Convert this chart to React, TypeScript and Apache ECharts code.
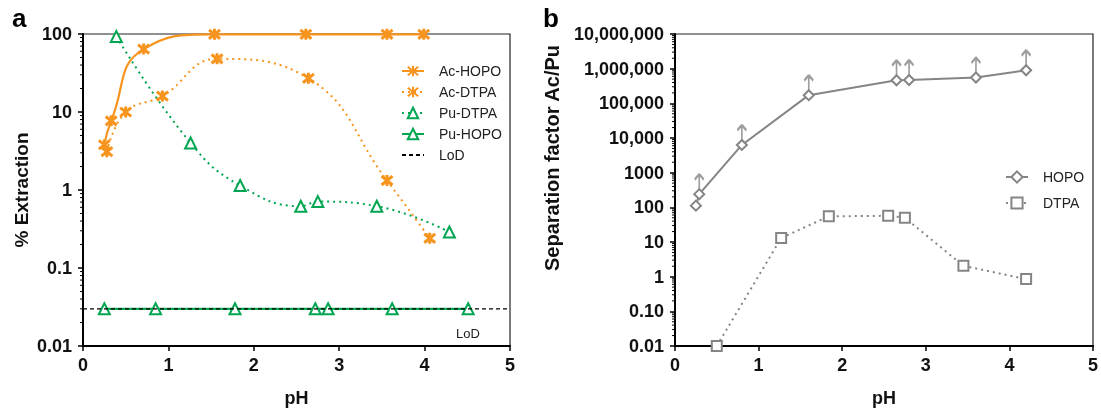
import React, { useEffect, useRef } from 'react';
import * as echarts from 'echarts';

// ---- Panel a: % Extraction vs pH ----
const acHopoPH = [0.25, 0.33, 0.71, 1.54, 2.61, 3.56, 3.99];
const acHopoExt = [3.8, 7.7, 64, 99, 99, 99, 99];
const acDtpaPH = [0.28, 0.5, 0.93, 1.57, 2.64, 3.56, 4.06];
const acDtpaExt = [3.1, 10, 16, 48, 27, 1.32, 0.24];
const puDtpaPH = [0.39, 1.26, 1.84, 2.55, 2.75, 3.44, 4.29];
const puDtpaExt = [93, 4.0, 1.14, 0.62, 0.71, 0.62, 0.29];
const puHopoPH = [0.25, 0.85, 1.78, 2.72, 2.87, 3.62, 4.51];
const puHopoExt = [0.03, 0.03, 0.03, 0.03, 0.03, 0.03, 0.03];
const lodPH = [0, 5];
const lodExt = [0.03, 0.03];

// ---- Panel b: separation factor Ac/Pu vs pH ----
const hopoPH = [0.25, 0.29, 0.8, 1.6, 2.65, 2.8, 3.6, 4.2];
const hopoSF = [112, 240, 6300, 172000, 464000, 470000, 555000, 900000];
const hopoLowerBound = [false, true, true, true, true, true, true, true];
const dtpaPH = [0.5, 1.27, 1.84, 2.55, 2.75, 3.45, 4.2];
const dtpaSF = [0.01, 13, 55, 57, 50, 2.06, 0.85];

// ---- Tick labels ----
const leftYTickLabels = ['0.01', '0.1', '1', '10', '100'];
const rightYTickLabels = ['0.01', '0.10', '1', '10', '100', '1000', '10,000', '100,000', '1,000,000', '10,000,000'];

const ORANGE = '#F7941D';
const GREEN = '#00A651';
const GRAY = '#858585';
const FONT = 'Liberation Sans, Arial, sans-serif';

const zip = (xs: number[], ys: number[]) => xs.map((x, i) => [x, ys[i]]);

const STAR = 'path://M1,1 L9,9 M9,1 L1,9 M5,0 L5,10';
const ARROW = 'path://M5,16 L5,1 M5,1 L1,6 M5,1 L9,6';

export default function App() {
  const ref = useRef<HTMLDivElement>(null);
  useEffect(() => {
    if (!ref.current) return;
    const chart = echarts.init(ref.current, undefined, { renderer: 'svg' });

    const xAxisCommon = (gridIndex: number) => ({
      type: 'value',
      gridIndex,
      min: 0,
      max: 5,
      interval: 1,
      name: 'pH',
      nameLocation: 'middle',
      nameGap: 43,
      nameTextStyle: { fontFamily: FONT, fontWeight: 'bold', fontSize: 18, color: '#111' },
      axisLine: { show: true, onZero: false, lineStyle: { color: '#000', width: 2 } },
      axisTick: { show: true, inside: false, length: 5, lineStyle: { color: '#000', width: 1.5 } },
      axisLabel: { fontFamily: FONT, fontWeight: 'bold', fontSize: 18, color: '#111', margin: 10 },
      splitLine: { show: false },
    });

    const option: any = {
      animation: false,
      textStyle: { fontFamily: FONT },
      grid: [
        { left: 83, right: 591, top: 34, bottom: 64, show: true, borderColor: '#222', borderWidth: 1.2, containLabel: false },
        { left: 675, right: 7, top: 34, bottom: 64, show: true, borderColor: '#222', borderWidth: 1.2, containLabel: false },
      ],
      xAxis: [xAxisCommon(0), xAxisCommon(1)],
      yAxis: [
        {
          type: 'log',
          logBase: 10,
          gridIndex: 0,
          min: 0.01,
          max: 100,
          name: '% Extraction',
          nameLocation: 'middle',
          nameGap: 52,
          nameTextStyle: { fontFamily: FONT, fontWeight: 'bold', fontSize: 19, color: '#111' },
          axisLine: { show: true, lineStyle: { color: '#000', width: 2 } },
          axisTick: { show: true, length: 5, lineStyle: { color: '#000', width: 1.5 } },
          axisLabel: {
            fontFamily: FONT, fontWeight: 'bold', fontSize: 18, color: '#111', margin: 11,
            formatter: (v: number) => leftYTickLabels[Math.round(Math.log10(v)) + 2] ?? '',
          },
          splitLine: { show: false },
        },
        {
          type: 'log',
          logBase: 10,
          gridIndex: 1,
          min: 0.01,
          max: 10000000,
          axisLine: { show: true, lineStyle: { color: '#000', width: 2 } },
          axisTick: { show: true, length: 5, lineStyle: { color: '#000', width: 1.5 } },
          axisLabel: {
            fontFamily: FONT, fontWeight: 'bold', fontSize: 18, color: '#111', margin: 11,
            formatter: (v: number) => rightYTickLabels[Math.round(Math.log10(v)) + 2] ?? '',
          },
          splitLine: { show: false },
        },
      ],
      legend: [
        {
          orient: 'vertical',
          left: 396,
          top: 59,
          itemWidth: 22,
          itemHeight: 13,
          itemGap: 7,
          data: ['Ac-HOPO', 'Ac-DTPA', 'Pu-DTPA', 'Pu-HOPO', { name: 'LoD', itemStyle: { opacity: 0 } }],
          textStyle: { fontFamily: FONT, fontSize: 14, color: '#222', padding: [0, 0, 0, 10] },
        },
        {
          orient: 'vertical',
          left: 1000,
          top: 165,
          itemWidth: 22,
          itemHeight: 14,
          itemGap: 12,
          data: ['HOPO', 'DTPA'],
          textStyle: { fontFamily: FONT, fontSize: 14, color: '#222', padding: [0, 0, 0, 10] },
        },
      ],
      series: [
        {
          name: 'Ac-HOPO', type: 'line', xAxisIndex: 0, yAxisIndex: 0, clip: false,
          data: zip(acHopoPH, acHopoExt), smooth: 0.5,
          symbol: STAR, symbolSize: 11,
          itemStyle: { color: ORANGE, borderColor: ORANGE, borderWidth: 3 },
          lineStyle: { color: ORANGE, width: 2.2, type: 'solid' },
          z: 4,
        },
        {
          name: 'Ac-DTPA', type: 'line', xAxisIndex: 0, yAxisIndex: 0, clip: false,
          data: zip(acDtpaPH, acDtpaExt), smooth: 0.45,
          symbol: STAR, symbolSize: 11,
          itemStyle: { color: ORANGE, borderColor: ORANGE, borderWidth: 3 },
          lineStyle: { color: ORANGE, width: 2, type: [2, 4] },
          z: 4,
        },
        {
          name: 'Pu-DTPA', type: 'line', xAxisIndex: 0, yAxisIndex: 0, clip: false,
          data: zip(puDtpaPH, puDtpaExt), smooth: 0.45,
          symbol: 'emptyTriangle', symbolSize: 11,
          itemStyle: { color: GREEN, borderWidth: 2.2 },
          lineStyle: { color: GREEN, width: 2, type: [2, 4] },
          z: 3,
        },
        {
          name: 'Pu-HOPO', type: 'line', xAxisIndex: 0, yAxisIndex: 0, clip: false,
          data: zip(puHopoPH, puHopoExt),
          symbol: 'emptyTriangle', symbolSize: 11,
          itemStyle: { color: GREEN, borderWidth: 2.2 },
          lineStyle: { color: GREEN, width: 2.2 },
          z: 3,
        },
        {
          name: 'LoD', type: 'line', xAxisIndex: 0, yAxisIndex: 0, clip: false,
          data: zip(lodPH, lodExt), symbol: 'none',
          itemStyle: { color: '#000' },
          lineStyle: { color: '#000', width: 1.2, type: [4, 3] },
          z: 5,
        },
        {
          name: 'HOPO', type: 'line', xAxisIndex: 1, yAxisIndex: 1, clip: false,
          data: zip(hopoPH, hopoSF),
          symbol: 'emptyDiamond', symbolSize: 10,
          itemStyle: { color: GRAY, borderWidth: 2 },
          lineStyle: { color: GRAY, width: 2 },
          z: 3,
        },
        {
          name: 'HOPO lower bound', type: 'scatter', xAxisIndex: 1, yAxisIndex: 1, clip: false,
          data: zip(hopoPH, hopoSF).filter((_, i) => hopoLowerBound[i]),
          symbol: ARROW, symbolSize: [9, 16], symbolOffset: [0, -12],
          itemStyle: { color: GRAY, borderColor: GRAY, borderWidth: 2.2 },
          z: 2,
        },
        {
          name: 'DTPA', type: 'line', xAxisIndex: 1, yAxisIndex: 1, clip: false,
          data: zip(dtpaPH, dtpaSF),
          symbol: 'emptyRect', symbolSize: 10,
          itemStyle: { color: GRAY, borderWidth: 2.2 },
          lineStyle: { color: GRAY, width: 2, type: [2, 4] },
          z: 3,
        },
      ],
    };
    chart.setOption(option);

    // log-spaced minor ticks on both y axes
    const graphics: any[] = [];
    const addMinor = (yAxisIndex: number, xAxisIndex: number, dMin: number, dMax: number) => {
      const xPix = chart.convertToPixel({ xAxisIndex } as any, 0) as number;
      for (let d = dMin; d < dMax; d++) {
        for (let m = 2; m <= 9; m++) {
          const y = chart.convertToPixel({ yAxisIndex } as any, m * Math.pow(10, d)) as number;
          graphics.push({
            type: 'line', silent: true,
            shape: { x1: xPix - 3, y1: y, x2: xPix, y2: y },
            style: { stroke: '#000', lineWidth: 1 },
          });
        }
      }
    };
    addMinor(0, 0, -2, 2);
    addMinor(1, 1, -2, 7);

    graphics.push(
      { type: 'text', left: 12, top: 5, style: { text: 'a', font: `bold 26px ${FONT}`, fill: '#000' } },
      { type: 'text', left: 543, top: 5, style: { text: 'b', font: `bold 26px ${FONT}`, fill: '#000' } },
      { type: 'text', x: 468, y: 333, style: { text: 'LoD', font: `13px ${FONT}`, fill: '#222', align: 'center', verticalAlign: 'middle' } },
      {
        type: 'text', x: 552, y: 158, rotation: Math.PI / 2,
        style: { text: 'Separation factor Ac/Pu', font: `bold 20px ${FONT}`, fill: '#111', align: 'center', verticalAlign: 'middle' },
      },
    );
    chart.setOption({ graphic: graphics });

    return () => chart.dispose();
  }, []);

  return <div ref={ref} style={{ position: 'fixed', left: 0, top: 0, width: 1101, height: 412 }} />;
}
